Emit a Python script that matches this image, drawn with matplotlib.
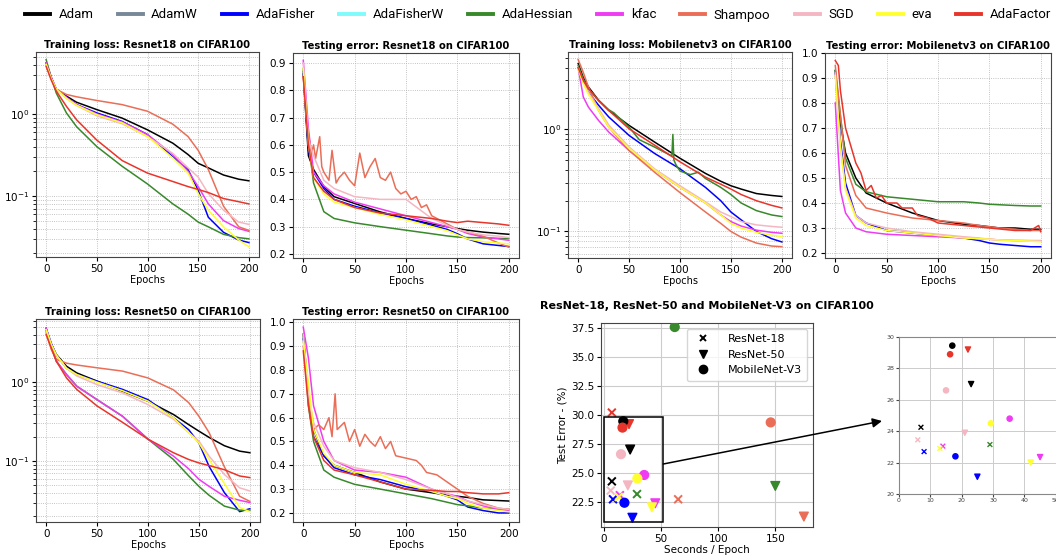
import matplotlib
matplotlib.use("Agg")
import matplotlib.pyplot as plt
from matplotlib.lines import Line2D
from matplotlib.patches import Rectangle

W, H = 1056, 556

names = ['Adam', 'AdamW', 'AdaFisher', 'AdaFisherW', 'AdaHessian',
         'kfac', 'Shampoo', 'SGD', 'eva', 'AdaFactor']
colors = {'Adam': '#000000', 'AdamW': '#778899', 'AdaFisher': '#0000ff',
          'AdaFisherW': '#80fbfb', 'AdaHessian': '#38892b', 'kfac': '#ef3cf3',
          'Shampoo': '#ea6e57', 'SGD': '#f4b7c2', 'eva': '#ffff30',
          'AdaFactor': '#e8352b'}

# common epoch grid for the read-off curves
epochs = [0, 5, 10, 20, 30, 50, 75, 100, 125, 140, 150, 160, 175, 190, 200]

# --- Training loss: Resnet18 ---
r18_tr_adam = [4.2, 2.8, 2.0, 1.65, 1.39, 1.13, 0.89, 0.64, 0.44, 0.32, 0.25, 0.22, 0.18, 0.16, 0.153]
r18_tr_adafisher = [4.0, 2.7, 2.0, 1.6, 1.3, 1.03, 0.81, 0.56, 0.30, 0.21, 0.117, 0.055, 0.036, 0.029, 0.027]
r18_tr_adahessian = [4.6, 2.8, 1.8, 1.03, 0.70, 0.40, 0.23, 0.14, 0.08, 0.06, 0.048, 0.042, 0.034, 0.031, 0.030]
r18_tr_kfac = [4.2, 2.8, 2.0, 1.6, 1.3, 1.0, 0.80, 0.56, 0.32, 0.20, 0.13, 0.08, 0.05, 0.04, 0.037]
r18_tr_shampoo = [4.0, 2.7, 2.0, 1.73, 1.62, 1.46, 1.30, 1.08, 0.75, 0.53, 0.36, 0.21, 0.075, 0.042, 0.038]
r18_tr_sgd = [4.0, 2.7, 2.0, 1.55, 1.27, 0.95, 0.76, 0.53, 0.33, 0.22, 0.17, 0.107, 0.067, 0.048, 0.045]
r18_tr_eva = [4.0, 2.7, 2.0, 1.55, 1.28, 0.98, 0.78, 0.53, 0.29, 0.19, 0.107, 0.067, 0.042, 0.029, 0.024]
r18_tr_adafactor = [3.8, 2.6, 1.9, 1.24, 0.85, 0.48, 0.27, 0.19, 0.15, 0.13, 0.12, 0.11, 0.093, 0.085, 0.08]

# --- Testing error: Resnet18 ---
r18_te_adam = [0.86, 0.56, 0.51, 0.447, 0.41, 0.385, 0.354, 0.33, 0.31, 0.30, 0.293, 0.287, 0.28, 0.275, 0.272]
r18_te_adafisher = [0.87, 0.58, 0.50, 0.44, 0.40, 0.375, 0.35, 0.33, 0.305, 0.29, 0.274, 0.255, 0.237, 0.231, 0.227]
r18_te_adahessian = [0.88, 0.61, 0.46, 0.355, 0.33, 0.314, 0.30, 0.287, 0.274, 0.266, 0.262, 0.260, 0.259, 0.257, 0.256]
r18_te_kfac = [0.91, 0.66, 0.50, 0.45, 0.42, 0.39, 0.365, 0.34, 0.315, 0.30, 0.29, 0.275, 0.262, 0.255, 0.25]
r18_te_shampoo_ep = [0, 3, 5, 8, 10, 12, 16, 18, 20, 25, 28, 32, 35, 40, 45, 50, 55, 60, 65, 70,
                     75, 80, 85, 90, 95, 100, 105, 110, 115, 120, 125, 130, 140, 150, 160, 175, 190, 200]
r18_te_shampoo = [0.85, 0.70, 0.64, 0.57, 0.60, 0.55, 0.63, 0.52, 0.50, 0.47, 0.58, 0.46, 0.48, 0.50, 0.47,
                  0.45, 0.57, 0.48, 0.52, 0.55, 0.48, 0.47, 0.50, 0.44, 0.42, 0.43, 0.40, 0.41, 0.37, 0.38,
                  0.34, 0.33, 0.31, 0.29, 0.28, 0.265, 0.24, 0.225]
r18_te_sgd = [0.90, 0.62, 0.56, 0.47, 0.44, 0.41, 0.40, 0.40, 0.33, 0.305, 0.29, 0.28, 0.27, 0.265, 0.26]
r18_te_eva = [0.88, 0.60, 0.48, 0.42, 0.39, 0.37, 0.345, 0.325, 0.30, 0.285, 0.27, 0.255, 0.245, 0.24, 0.237]
r18_te_adafactor = [0.85, 0.60, 0.48, 0.43, 0.40, 0.37, 0.35, 0.34, 0.33, 0.32, 0.315, 0.32, 0.315, 0.31, 0.305]

# --- Training loss: Mobilenetv3 ---
mn_tr_adam = [4.4, 3.2, 2.6, 1.92, 1.53, 1.09, 0.75, 0.52, 0.37, 0.31, 0.28, 0.26, 0.235, 0.225, 0.22]
mn_tr_adafisher = [4.0, 2.9, 2.3, 1.72, 1.32, 0.87, 0.58, 0.41, 0.27, 0.20, 0.155, 0.13, 0.10, 0.085, 0.079]
mn_tr_adahessian_ep = [0, 5, 10, 20, 30, 35, 40, 50, 60, 75, 90, 92, 93, 94, 96, 100, 110, 118,
                       125, 140, 150, 160, 175, 190, 200]
mn_tr_adahessian = [4.2, 3.1, 2.5, 1.92, 1.55, 1.45, 1.30, 1.05, 0.79, 0.67, 0.56, 0.55, 0.89, 0.50,
                    0.45, 0.39, 0.36, 0.38, 0.33, 0.27, 0.23, 0.19, 0.16, 0.145, 0.14]
mn_tr_kfac = [4.0, 2.07, 1.65, 1.22, 0.94, 0.62, 0.40, 0.27, 0.19, 0.145, 0.125, 0.113, 0.103, 0.098, 0.096]
mn_tr_shampoo = [4.8, 3.6, 2.6, 1.53, 1.05, 0.62, 0.38, 0.24, 0.155, 0.12, 0.100, 0.088, 0.077, 0.072, 0.071]
mn_tr_sgd = [4.0, 2.9, 2.3, 1.6, 1.1, 0.67, 0.41, 0.28, 0.195, 0.155, 0.14, 0.125, 0.116, 0.112, 0.11]
mn_tr_eva = [3.9, 2.8, 2.2, 1.53, 1.05, 0.65, 0.40, 0.27, 0.19, 0.145, 0.12, 0.108, 0.098, 0.092, 0.089]
mn_tr_adafactor = [4.0, 3.0, 2.5, 1.92, 1.53, 1.01, 0.70, 0.48, 0.34, 0.29, 0.26, 0.23, 0.20, 0.18, 0.17]

# --- Testing error: Mobilenetv3 ---
mn_te_adam = [0.93, 0.72, 0.60, 0.50, 0.44, 0.40, 0.36, 0.33, 0.315, 0.31, 0.305, 0.30, 0.30, 0.295, 0.295]
mn_te_adafisher = [0.92, 0.65, 0.48, 0.35, 0.32, 0.29, 0.28, 0.27, 0.26, 0.25, 0.24, 0.235, 0.23, 0.225, 0.225]
mn_te_adahessian = [0.93, 0.75, 0.58, 0.475, 0.445, 0.425, 0.415, 0.405, 0.405, 0.40, 0.395, 0.393, 0.39, 0.388, 0.388]
mn_te_kfac = [0.80, 0.45, 0.36, 0.30, 0.285, 0.275, 0.27, 0.265, 0.26, 0.257, 0.255, 0.252, 0.25, 0.249, 0.248]
mn_te_shampoo = [0.95, 0.75, 0.55, 0.43, 0.38, 0.36, 0.34, 0.33, 0.32, 0.31, 0.305, 0.30, 0.295, 0.29, 0.29]
mn_te_sgd = [0.92, 0.62, 0.46, 0.35, 0.32, 0.30, 0.285, 0.275, 0.265, 0.26, 0.255, 0.252, 0.25, 0.25, 0.25]
mn_te_eva = [0.91, 0.63, 0.45, 0.34, 0.31, 0.29, 0.28, 0.27, 0.26, 0.257, 0.255, 0.252, 0.25, 0.247, 0.245]
mn_te_adafactor_ep = [0, 3, 5, 10, 15, 20, 25, 30, 35, 40, 45, 50, 60, 65, 75, 80, 90, 100,
                      125, 150, 175, 190, 198, 200]
mn_te_adafactor = [0.97, 0.95, 0.85, 0.70, 0.63, 0.56, 0.52, 0.45, 0.47, 0.42, 0.43, 0.40,
                   0.40, 0.38, 0.38, 0.35, 0.34, 0.32, 0.31, 0.30, 0.29, 0.29, 0.31, 0.285]

# --- Training loss: Resnet50 ---
r50_tr_adam = [4.5, 3.0, 2.24, 1.59, 1.31, 1.03, 0.77, 0.575, 0.39, 0.29, 0.24, 0.20, 0.157, 0.134, 0.128]
r50_tr_adafisher = [4.8, 3.1, 2.2, 1.5, 1.25, 1.03, 0.81, 0.60, 0.354, 0.25, 0.17, 0.086, 0.040, 0.023, 0.025]
r50_tr_adahessian = [4.8, 2.8, 1.84, 1.25, 0.89, 0.60, 0.37, 0.19, 0.105, 0.065, 0.048, 0.037, 0.027, 0.024, 0.024]
r50_tr_kfac = [4.8, 2.8, 1.84, 1.25, 0.89, 0.60, 0.37, 0.19, 0.116, 0.08, 0.059, 0.048, 0.036, 0.032, 0.03]
r50_tr_shampoo = [4.2, 2.6, 1.94, 1.74, 1.65, 1.52, 1.38, 1.13, 0.80, 0.55, 0.37, 0.23, 0.085, 0.036, 0.031]
r50_tr_sgd = [4.6, 3.0, 2.2, 1.5, 1.2, 0.93, 0.73, 0.52, 0.34, 0.23, 0.18, 0.116, 0.068, 0.046, 0.042]
r50_tr_eva = [4.6, 3.0, 2.2, 1.5, 1.25, 1.0, 0.78, 0.575, 0.354, 0.23, 0.17, 0.105, 0.052, 0.026, 0.023]
r50_tr_adafactor = [4.0, 2.7, 1.84, 1.13, 0.81, 0.50, 0.31, 0.19, 0.128, 0.105, 0.095, 0.088, 0.078, 0.065, 0.062]

# --- Testing error: Resnet50 ---
r50_te_adam = [0.95, 0.70, 0.55, 0.44, 0.40, 0.37, 0.33, 0.30, 0.285, 0.275, 0.27, 0.265, 0.255, 0.252, 0.25]
r50_te_adafisher = [0.93, 0.70, 0.52, 0.44, 0.39, 0.36, 0.34, 0.31, 0.29, 0.27, 0.255, 0.225, 0.21, 0.20, 0.20]
r50_te_adahessian = [0.95, 0.65, 0.50, 0.38, 0.35, 0.32, 0.30, 0.28, 0.26, 0.245, 0.235, 0.23, 0.22, 0.217, 0.215]
r50_te_kfac = [0.98, 0.85, 0.65, 0.50, 0.42, 0.38, 0.37, 0.35, 0.30, 0.28, 0.27, 0.25, 0.23, 0.215, 0.21]
r50_te_shampoo_ep = [0, 5, 8, 10, 15, 20, 25, 28, 31, 33, 40, 45, 50, 55, 60, 65, 70, 75, 80, 85,
                     90, 100, 110, 115, 120, 130, 140, 150, 160, 175, 190, 200]
r50_te_shampoo = [0.90, 0.70, 0.58, 0.55, 0.57, 0.55, 0.60, 0.52, 0.70, 0.55, 0.58, 0.50, 0.55, 0.48,
                  0.53, 0.50, 0.48, 0.52, 0.47, 0.50, 0.44, 0.43, 0.42, 0.40, 0.37, 0.36, 0.33, 0.30,
                  0.27, 0.24, 0.22, 0.215]
r50_te_sgd = [0.95, 0.70, 0.58, 0.48, 0.42, 0.39, 0.37, 0.34, 0.30, 0.28, 0.265, 0.25, 0.235, 0.22, 0.215]
r50_te_eva = [0.92, 0.75, 0.55, 0.45, 0.40, 0.37, 0.36, 0.32, 0.29, 0.27, 0.26, 0.24, 0.22, 0.21, 0.205]
r50_te_adafactor = [0.88, 0.65, 0.52, 0.42, 0.38, 0.36, 0.33, 0.30, 0.295, 0.29, 0.29, 0.285, 0.28, 0.28, 0.285]

# --- Scatter: seconds / epoch vs test error (%) ---
sc_opts = ['Adam', 'AdaFisher', 'AdaHessian', 'kfac', 'Shampoo', 'SGD', 'eva', 'AdaFactor']
sc_r18_sec = [7, 8, 29, 14, 65, 6, 13, 7]
sc_r18_err = [24.25, 22.7, 23.15, 23.05, 22.7, 23.45, 22.9, 30.2]
sc_r50_sec = [23, 25, 150, 45, 175, 21, 42, 22]
sc_r50_err = [27.0, 21.1, 23.85, 22.35, 21.2, 23.9, 22.0, 29.2]
sc_mn_sec = [17, 18, 62, 35.3, 146, 15, 29.3, 16.3]
sc_mn_err = [29.45, 22.4, 37.6, 24.8, 29.35, 26.6, 24.5, 28.9]


def series(prefix):
    g = globals()
    out = []
    for key in ['adam', 'adafisher', 'adahessian', 'kfac', 'shampoo', 'sgd', 'eva', 'adafactor']:
        ys = g[prefix + key]
        xs = g.get(prefix + key + '_ep', epochs)
        out.append((key, xs, ys))
    return out


key2name = {'adam': 'Adam', 'adafisher': 'AdaFisher', 'adahessian': 'AdaHessian', 'kfac': 'kfac',
            'shampoo': 'Shampoo', 'sgd': 'SGD', 'eva': 'eva', 'adafactor': 'AdaFactor'}

fig = plt.figure(figsize=(W / 100, H / 100), dpi=100)


def px_axes(l, t, r, b):
    return fig.add_axes([l / W, 1 - b / H, (r - l) / W, (b - t) / H])


def curve_panel(box, prefix, title, log, ylim):
    ax = px_axes(*box)
    for key, xs, ys in series(prefix):
        ax.plot(xs, ys, color=colors[key2name[key]], lw=1.1)
    if log:
        ax.set_yscale('log')
        ax.grid(True, which='both', ls=':', color='#b0b0b0', lw=0.6)
    else:
        ax.grid(True, ls=':', color='#b0b0b0', lw=0.6)
    ax.set_xlim(-10, 210)
    ax.set_ylim(*ylim)
    ax.set_xticks([0, 50, 100, 150, 200])
    ax.set_title(title, fontsize=7.2, fontweight='bold', pad=3)
    ax.set_xlabel('Epochs', fontsize=7, labelpad=1)
    ax.tick_params(labelsize=7.5, length=3, pad=2)
    for s in ax.spines.values():
        s.set_color('#444444')
    return ax


curve_panel((36, 52, 259, 257), 'r18_tr_', 'Training loss: Resnet18 on CIFAR100', True, (0.018, 5.7))
curve_panel((293, 53, 519, 258), 'r18_te_', 'Testing error: Resnet18 on CIFAR100', False, (0.185, 0.937))
curve_panel((568, 52, 792, 258), 'mn_tr_', 'Training loss: Mobilenetv3 on CIFAR100', True, (0.055, 5.7))
curve_panel((825, 53, 1051, 258), 'mn_te_', 'Testing error: Mobilenetv3 on CIFAR100', False, (0.18, 1.0))
curve_panel((36, 319, 260, 522), 'r50_tr_', 'Training loss: Resnet50 on CIFAR100', True, (0.017, 6.3))
curve_panel((293, 319, 519, 522), 'r50_te_', 'Testing error: Resnet50 on CIFAR100', False, (0.162, 1.014))

# scatter panel
ax = px_axes(601, 323, 813, 527)
sc_cols = [colors[n] for n in sc_opts]
ax.scatter(sc_r18_sec, sc_r18_err, c=sc_cols, marker='x', s=32, linewidths=1.4, zorder=3)
ax.scatter(sc_r50_sec, sc_r50_err, c=sc_cols, marker='v', s=40, zorder=3)
ax.scatter(sc_mn_sec, sc_mn_err, c=sc_cols, marker='o', s=40, zorder=3)
ax.add_patch(Rectangle((0.5, 20.75), 51.5, 9.1, fill=False, ec='k', lw=1.1, zorder=4))
ax.set_xlim(-2.5, 183)
ax.set_ylim(20.3, 37.95)
ax.set_xticks([0, 50, 100, 150])
ax.set_yticks([22.5, 25.0, 27.5, 30.0, 32.5, 35.0, 37.5])
ax.grid(True, color='#cccccc', lw=0.8)
ax.set_axisbelow(True)
ax.tick_params(labelsize=7.5, length=3, pad=2)
ax.set_xlabel('Seconds / Epoch', fontsize=7.5, labelpad=1)
ax.set_ylabel('Test Error - (%)', fontsize=7.5, labelpad=2)
ax.set_title('ResNet-18, ResNet-50 and MobileNet-V3 on CIFAR100', fontsize=8,
             fontweight='bold', pad=10)
for s in ax.spines.values():
    s.set_color('#444444')
proxies = [Line2D([], [], ls='none', marker='x', color='k', ms=5, mew=1.4),
           Line2D([], [], ls='none', marker='v', color='k', ms=6),
           Line2D([], [], ls='none', marker='o', color='k', ms=6)]
ax.legend(proxies, ['ResNet-18', 'ResNet-50', 'MobileNet-V3'], loc='upper right',
          fontsize=8, handletextpad=1.2, borderpad=0.5, labelspacing=0.5)
ax.annotate('', xy=(882 / W, 1 - 421 / H), xycoords='figure fraction',
            xytext=(52, 25.75), textcoords='data', annotation_clip=False,
            arrowprops=dict(arrowstyle='-|>', color='k', lw=1.1, mutation_scale=14,
                            shrinkA=0, shrinkB=0))

# zoomed inset
axi = px_axes(899, 337, 1062, 494)
axi.scatter(sc_r18_sec, sc_r18_err, c=sc_cols, marker='x', s=12, linewidths=1.0, zorder=3)
axi.scatter(sc_r50_sec, sc_r50_err, c=sc_cols, marker='v', s=14, zorder=3)
axi.scatter(sc_mn_sec, sc_mn_err, c=sc_cols, marker='o', s=14, zorder=3)
axi.set_xlim(0, 52)
axi.set_ylim(20, 30)
axi.set_xticks([0, 10, 20, 30, 40, 50])
axi.set_yticks([20, 22, 24, 26, 28, 30])
axi.grid(True, color='#cccccc', lw=0.7)
axi.set_axisbelow(True)
axi.tick_params(labelsize=4.5, length=2, pad=1, colors='#444444')
for s in axi.spines.values():
    s.set_color('#888888')

# top legend
handles = [Line2D([], [], color=colors[n], lw=2.8) for n in names]
fig.legend(handles, names, loc='center', bbox_to_anchor=(538 / W, 1 - 15 / H), ncol=10,
           frameon=False, prop={'family': 'Roboto', 'size': 9.5}, handlelength=1.9,
           handletextpad=0.65, columnspacing=1.82, borderpad=0.2)

fig.savefig('out.png', dpi=100)
